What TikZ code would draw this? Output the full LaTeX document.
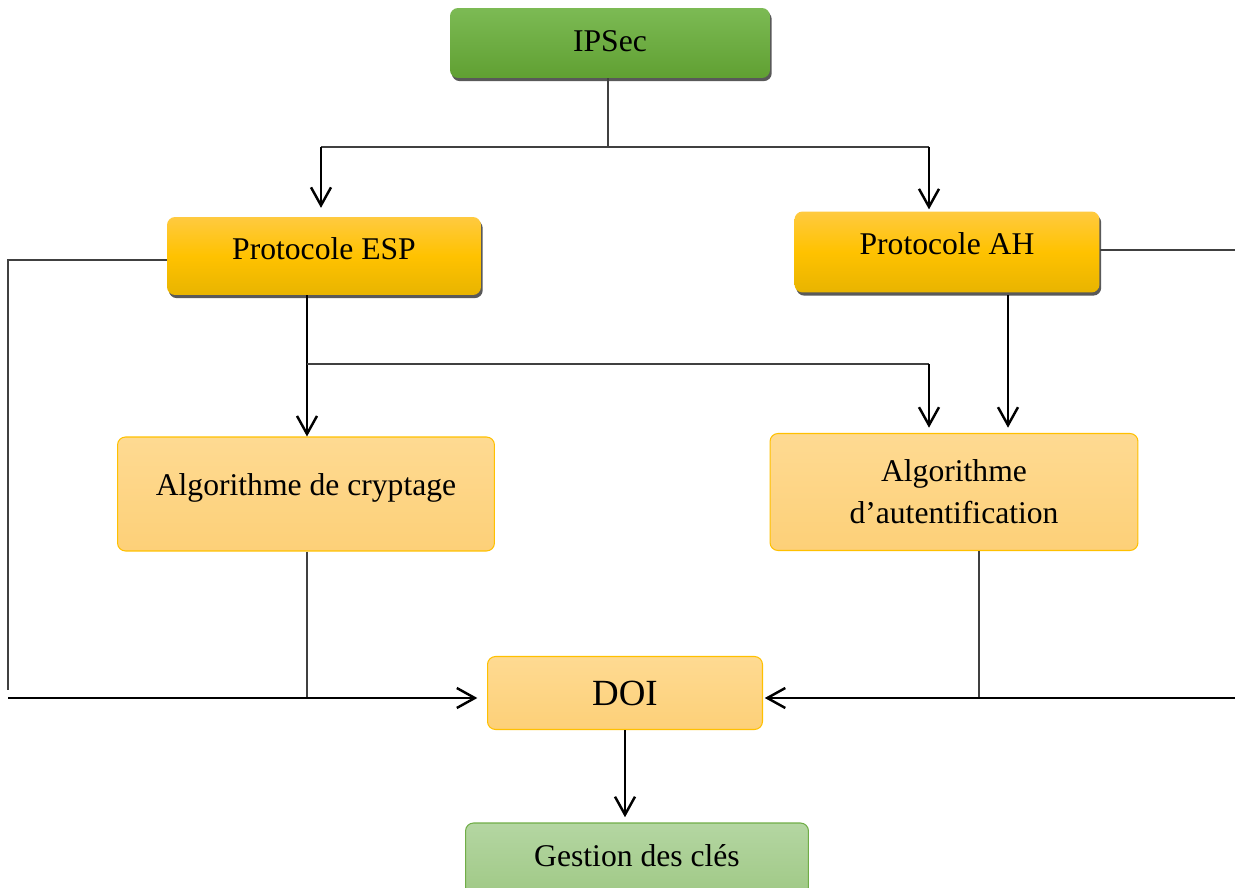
\documentclass[tikz,border=0pt]{standalone}
\usepackage{fontspec}
\setmainfont{Liberation Serif}
\usetikzlibrary{arrows.meta,shadows}

\definecolor{ipsectop}{RGB}{124,186,84}
\definecolor{ipsecbot}{RGB}{96,160,50}
\definecolor{goldtop}{RGB}{255,202,64}
\definecolor{goldmid}{RGB}{255,194,0}
\definecolor{goldbot}{RGB}{232,180,0}
\definecolor{pale}{RGB}{254,218,146}
\definecolor{palebot}{RGB}{253,208,120}
\definecolor{paleedge}{RGB}{255,192,0}
\definecolor{leaftop}{RGB}{180,214,162}
\definecolor{leafbot}{RGB}{160,201,134}
\definecolor{leafedge}{RGB}{112,173,71}
\definecolor{wire}{RGB}{64,64,64}

\begin{document}
\begin{tikzpicture}[
            x=0.02cm, y=-0.02cm,
            font=\fontsize{18}{22}\selectfont,
            box/.style={rectangle, rounded corners=0.16cm, inner sep=0pt},
            rootbox/.style={box, top color=ipsectop, bottom color=ipsecbot,
                    drop shadow={shadow xshift=1pt, shadow yshift=-1.8pt, fill=black!65, opacity=1}},
            protobox/.style={box, top color=goldtop, bottom color=goldbot, middle color=goldmid,
                    drop shadow={shadow xshift=1pt, shadow yshift=-1.8pt, fill=black!65, opacity=1}},
            algobox/.style={box, draw=paleedge, line width=0.6pt, top color=pale, bottom color=palebot},
            keybox/.style={box, draw=leafedge, line width=0.6pt, top color=leaftop, bottom color=leafbot},
            thinline/.style={draw=wire, line width=0.7pt},
            arrowline/.style={draw=black, line width=1.5pt,
                    -{Straight Barb[length=0.36cm, width=0.4cm, line width=1.4pt]}}
        ]
        \useasboundingbox (0,0) rectangle (1235,888);

        % boxes
        \node[rootbox, minimum width=6.4cm, minimum height=1.4cm, text height=13pt, text depth=3pt] (ipsec) at (610,43) {IPSec};
        \node[protobox, minimum width=6.28cm, minimum height=1.56cm, text height=13pt, text depth=8.5pt] (esp) at (324,256) {Protocole ESP};
        \node[protobox, minimum width=6.1cm, minimum height=1.62cm, text height=13pt, text depth=9.6pt] (ah) at (947,252) {Protocole AH};
        \node[algobox, minimum width=7.54cm, minimum height=2.28cm, text height=13pt, text depth=10.9pt] (crypt) at (306,494) {Algorithme de cryptage};
        \node[algobox, minimum width=7.36cm, minimum height=2.34cm, align=center] (auth) at (954,492)
            {Algorithme\\[2pt]d’autentification};
        \node[algobox, minimum width=5.5cm, minimum height=1.46cm, font=\fontsize{21}{25}\selectfont] (doi) at (625,693) {DOI};
        \node[keybox, minimum width=6.86cm, minimum height=1.44cm, text height=13pt, text depth=5pt] (keys) at (637,859) {Gestion des clés};

        % fork points
        \coordinate (fork) at (608,147);
        \coordinate (forkL) at (321,147);
        \coordinate (forkR) at (929,147);
        \coordinate (branch) at (307,364);
        \coordinate (branchR) at (929,364);
        \coordinate (ahdown) at (1008,295);
        \coordinate (authdown) at (979,551);
        \coordinate (busL) at (8,698);
        \coordinate (busR) at (1235,698);
        \coordinate (edgeR) at (1235,250);

        % IPSec to protocols
        \draw[thinline] (ipsec.south -| fork) -- (fork);
        \draw[thinline] (forkL) -- (forkR);
        \draw[arrowline, shorten >=5pt] (forkL) -- (forkL |- esp.north);
        \draw[arrowline, shorten >=1pt] (forkR) -- (forkR |- ah.north);

        % protocols to algorithms
        \draw[arrowline] (esp.south -| branch) -- (branch |- crypt.north);
        \draw[thinline] (branch) -- (branchR);
        \draw[arrowline, shorten >=3pt] (branchR) -- (branchR |- auth.north);
        \draw[arrowline, shorten >=3pt] (ahdown) -- (ahdown |- auth.north);

        % everything to DOI
        \draw[thinline] (esp.west |- 0,260) -- (8,260) -- ([yshift=4.5pt]busL);
        \draw[thinline] (ah.east |- edgeR) -- (edgeR);
        \draw[thinline] (crypt.south -| branch) -- (branch |- busL);
        \draw[thinline] (authdown) -- (authdown |- busL);
        \draw[arrowline, shorten >=5.5pt] (busL) -- (busL -| doi.west);
        \draw[arrowline, shorten >=1pt] (busR) -- (busR -| doi.east);
        \draw[arrowline, shorten >=3pt] (doi.south) -- (doi.south |- keys.north);
    \end{tikzpicture}
\end{document}
